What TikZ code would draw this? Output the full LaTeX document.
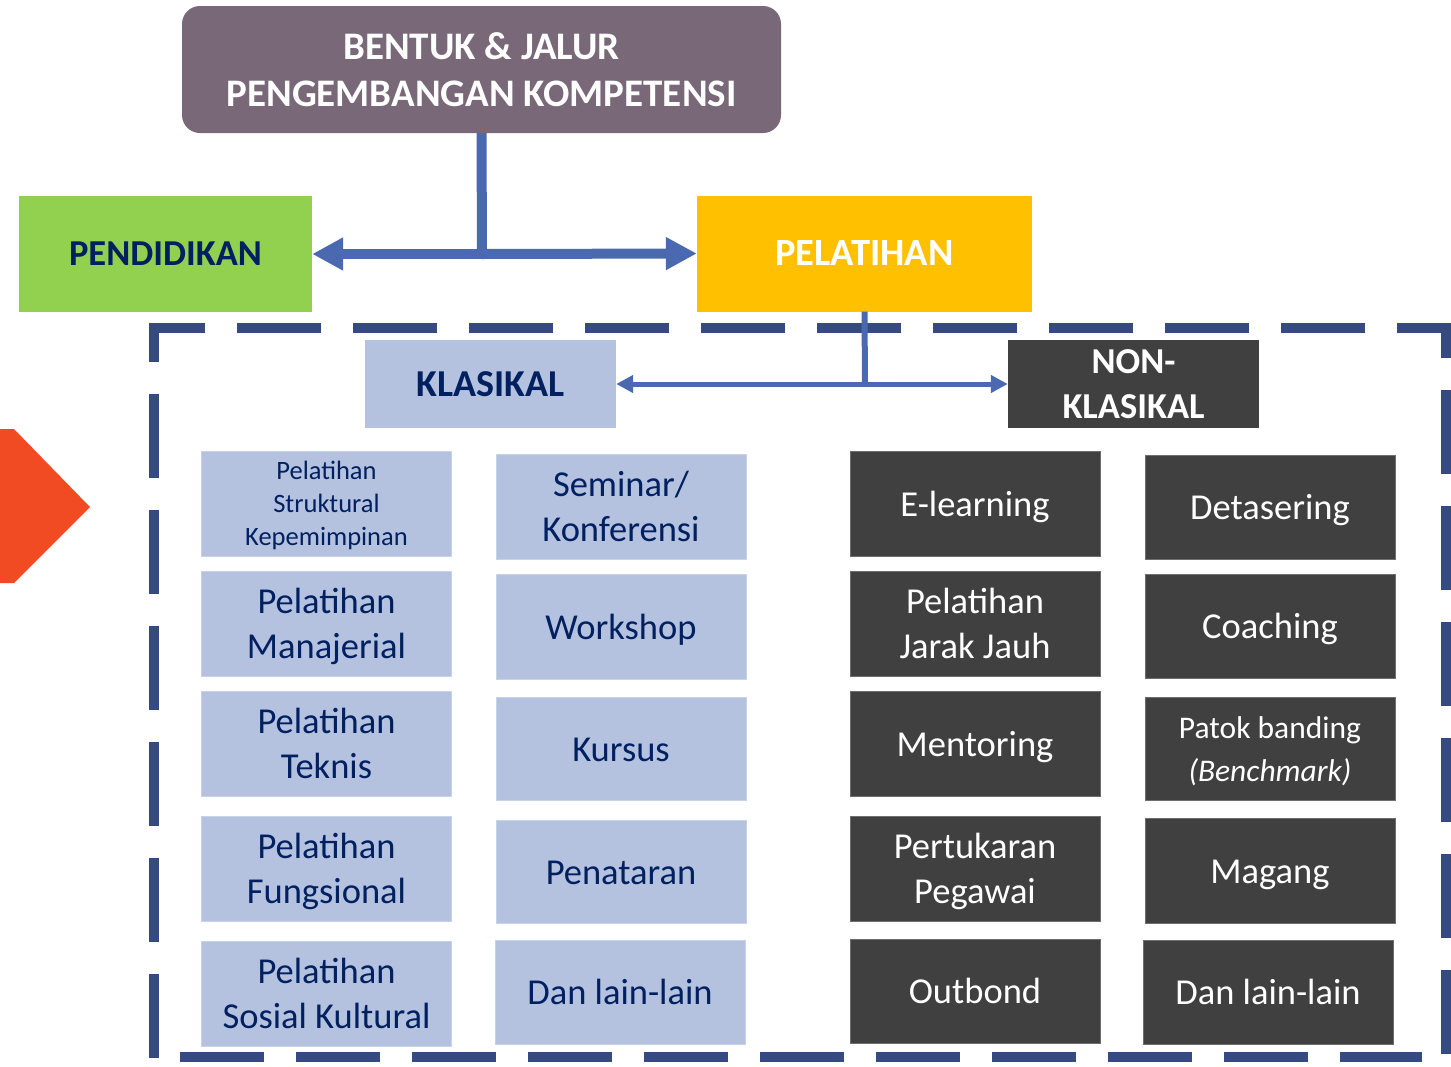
\documentclass[tikz,border=0pt]{standalone}
\usepackage{fontspec}
\setmainfont{Carlito}
\usetikzlibrary{arrows.meta}
\definecolor{topc}{RGB}{120,104,120}
\definecolor{greenc}{RGB}{146,208,80}
\definecolor{yellowc}{RGB}{255,192,0}
\definecolor{lightc}{RGB}{180,194,224}
\definecolor{lightedge}{RGB}{200,210,232}
\definecolor{darkc}{RGB}{64,64,64}
\definecolor{darkedge}{RGB}{110,110,110}
\definecolor{navyc}{RGB}{0,32,96}
\definecolor{linec}{RGB}{74,105,177}
\definecolor{dashc}{RGB}{53,75,128}
\definecolor{orangec}{RGB}{240,75,35}
\newcommand\highstrut{\rule{0pt}{0.92em}}
\newcommand\lowstrut{\rule[-0.22em]{0pt}{0pt}}
\tikzset{
  fs/.style={font=\fontsize{36.5}{45}\selectfont},
  lbox/.style={fill=lightc, draw=lightedge, line width=1pt, text=navyc, minimum width=250pt, minimum height=105pt, inner sep=0pt, align=center, fs},
  dbox/.style={fill=darkc, draw=darkedge, line width=1pt, text=white, minimum width=250pt, minimum height=105pt, inner sep=0pt, align=center, fs},
  bigline/.style={draw=linec, line width=10pt},
  bigarrow/.style={draw=linec, line width=10pt, -{Triangle[length=31pt,width=31pt]}},
  smallline/.style={draw=linec, line width=6pt},
  smallarrow/.style={draw=linec, line width=5pt, -{Triangle[length=17pt,width=17pt]}},
  frame/.style={draw=dashc, line width=10pt},
}
\begin{document}
\begin{tikzpicture}[x=1pt,y=-1pt]
\useasboundingbox (0,0) rectangle (1451,1066);
\fill[white] (0,0) rectangle (1451,1066);

% orange pentagon
\fill[orangec] (0,429) -- (14,429) -- (90,507) -- (14,583) -- (0,583) -- cycle;

% dashed frame, one side at a time
\draw[frame, dash pattern=on 84pt off 32pt, dash phase=28pt] (149,328) -- (1451,328);
\draw[frame, dash pattern=on 84pt off 32pt, dash phase=45pt] (154,323) -- (154,1059);
\draw[frame, dash pattern=on 84pt off 32pt, dash phase=49pt] (1446,323) -- (1446,1054);
\draw[frame, dash pattern=on 84pt off 32pt] (180,1057) -- (1422,1057);

% top box
\node[fill=topc, rounded corners=18pt, minimum width=599pt, minimum height=127pt, inner sep=0pt, text=white, align=center, font=\fontsize{39}{47}\selectfont\bfseries] (top) at (481.5,69.5) {BENTUK \& JALUR\\PENGEMBANGAN KOMPETENSI};

\node[fill=greenc, minimum width=293pt, minimum height=116pt, inner sep=0pt, text=navyc, font=\fontsize{36.5}{45}\selectfont\bfseries] (pend) at (165.5,254) {PENDIDIKAN};
\node[fill=yellowc, minimum width=335pt, minimum height=116pt, inner sep=0pt, text=white, font=\fontsize{38.5}{45}\selectfont\bfseries] (pel) at (864.5,253.5) {PELATIHAN};

\node[fill=lightc, minimum width=251pt, minimum height=88pt, inner sep=0pt, text=navyc, font=\fontsize{38}{45}\selectfont\bfseries] (kla) at (490.5,384) {KLASIKAL};
\node[fill=darkc, minimum width=251pt, minimum height=88pt, inner sep=0pt, text=white, align=center, font=\fontsize{36.5}{45}\selectfont\bfseries] (nkla) at (1133.5,384) {NON-\\KLASIKAL};

% connectors
\coordinate (j1) at (482,254);
\coordinate (j2) at (865,384);
\draw[bigline] (top.south) -- (j1);
\draw[bigarrow] (j1) -- (pend.east);
\draw[bigarrow] (j1) -- (pel.west);
\draw[smallline] (pel.south) -- (j2);
\draw[smallarrow] (j2) -- (kla.east);
\draw[smallarrow] (j2) -- (nkla.west);

% column 1
\node[lbox, font=\fontsize{26.5}{33}\selectfont] (a1) at (326.5,503.5) {\highstrut Pelatihan\\Struktural\\Kepemimpinan\lowstrut};
\node[lbox] (a2) at (326.5,623.5) {\highstrut Pelatihan\\Manajerial\lowstrut};
\node[lbox] (a3) at (326.5,743.5) {\highstrut Pelatihan\\Teknis\lowstrut};
\node[lbox] (a4) at (326.5,868.5) {\highstrut Pelatihan\\Fungsional\lowstrut};
\node[lbox] (a5) at (326.5,993.5) {\highstrut Pelatihan\\Sosial Kultural\lowstrut};

% column 2
\node[lbox] (b1) at (621,506.5) {\highstrut Seminar/\\Konferensi\lowstrut};
\node[lbox] (b2) at (621,626.5) {\highstrut Workshop\lowstrut};
\node[lbox, minimum height=103pt] (b3) at (621,748.5) {\highstrut Kursus\lowstrut};
\node[lbox, minimum height=103pt] (b4) at (621,871.5) {\highstrut Penataran\lowstrut};
\node[lbox, minimum height=104pt] (b5) at (620,992) {\highstrut Dan lain-lain\lowstrut};

% column 3
\node[dbox] (c1) at (975,503.5) {\highstrut E-learning\lowstrut};
\node[dbox] (c2) at (975,623.5) {\highstrut Pelatihan\\Jarak Jauh\lowstrut};
\node[dbox] (c3) at (975,743.5) {\highstrut Mentoring\lowstrut};
\node[dbox] (c4) at (975,868.5) {\highstrut Pertukaran\\Pegawai\lowstrut};
\node[dbox, minimum height=104pt] (c5) at (975,991) {\highstrut Outbond\lowstrut};

% column 4
\node[dbox, minimum height=104pt] (d1) at (1270,507) {\highstrut Detasering\lowstrut};
\node[dbox, minimum height=104pt] (d2) at (1270,626) {\highstrut Coaching\lowstrut};
\node[dbox, minimum height=103pt, font=\fontsize{31.5}{43}\selectfont] (d3) at (1270,748.5) {\highstrut Patok banding\\\textit{(Benchmark)}\lowstrut};
\node[dbox] (d4) at (1270,870.5) {\highstrut Magang\lowstrut};
\node[dbox, minimum height=104pt] (d5) at (1268,992) {\highstrut Dan lain-lain\lowstrut};
\end{tikzpicture}
\end{document}
